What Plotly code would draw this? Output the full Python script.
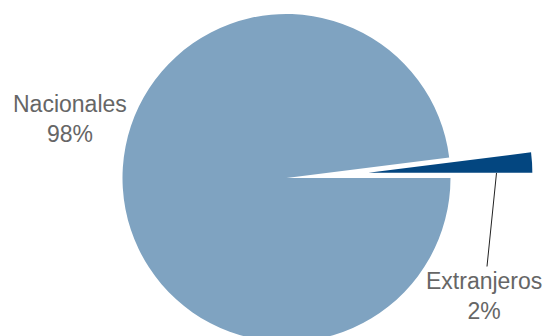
import math
import plotly.graph_objects as go

# ---- data ----
categories = ["Nacionales", "Extranjeros"]
values = [98, 2]
colors = ["#7FA3C1", "#034680"]
pulled = "Extranjeros"
pull_fraction = 0.5

W, H = 547, 342
R = 164.0              # pie radius in px
CX, CY = 286.5, 178.0  # pie centre in px (from top-left)

def dom(cx, cy, r):
    return dict(x=[(cx - r) / W, (cx + r) / W],
                y=[1 - (cy + r) / H, 1 - (cy - r) / H])

total = sum(values)
mid = None
acc = 0.0
for c, v in zip(categories, values):
    span = 360.0 * v / total
    if c == pulled:
        mid = acc + span / 2
    acc += span
# slices go clockwise from 3 o'clock; mid angle measured clockwise from east
theta = math.radians(mid)
dx = pull_fraction * R * math.cos(theta)
dy = pull_fraction * R * math.sin(theta)

col_main = [colors[i] if categories[i] != pulled else "rgba(0,0,0,0)" for i in range(2)]
col_pull = [colors[i] if categories[i] == pulled else "rgba(0,0,0,0)" for i in range(2)]

fig = go.Figure()
fig.add_trace(go.Pie(labels=categories, values=values, sort=False,
                     direction="clockwise", rotation=90,
                     marker=dict(colors=col_main, line=dict(width=0)),
                     textinfo="none", hoverinfo="skip", showlegend=False,
                     domain=dom(CX, CY, R)))
fig.add_trace(go.Pie(labels=categories, values=values, sort=False,
                     direction="clockwise", rotation=90,
                     marker=dict(colors=col_pull, line=dict(width=0)),
                     textinfo="none", hoverinfo="skip", showlegend=False,
                     domain=dom(CX + dx, CY + dy, R)))

font = dict(family="Helvetica, Liberation Sans, Arial", size=23, color="#666666")

fig.add_annotation(x=70 / W, y=1 - 119 / H, xref="paper", yref="paper",
                   text=f"{categories[0]}<br>{values[0]}%", showarrow=False,
                   align="center", font=font, xanchor="center", yanchor="middle")

# leader line point on bottom edge of pulled slice
px, py = 496.5, 173.0
fig.add_annotation(x=px / W, y=1 - py / H, xref="paper", yref="paper",
                   text=f"{categories[1]}<br>{values[1]}%", showarrow=True,
                   arrowhead=0, arrowwidth=1, arrowcolor="#222222",
                   ax=484 - px, ay=296 - py, align="center", font=font)

fig.update_layout(width=W, height=H, margin=dict(l=0, r=0, t=0, b=0),
                  paper_bgcolor="white", plot_bgcolor="white")

fig.write_html("out.html", config={"displayModeBar": False},
               post_script="document.body.style.margin='0';document.body.style.overflow='hidden';")
